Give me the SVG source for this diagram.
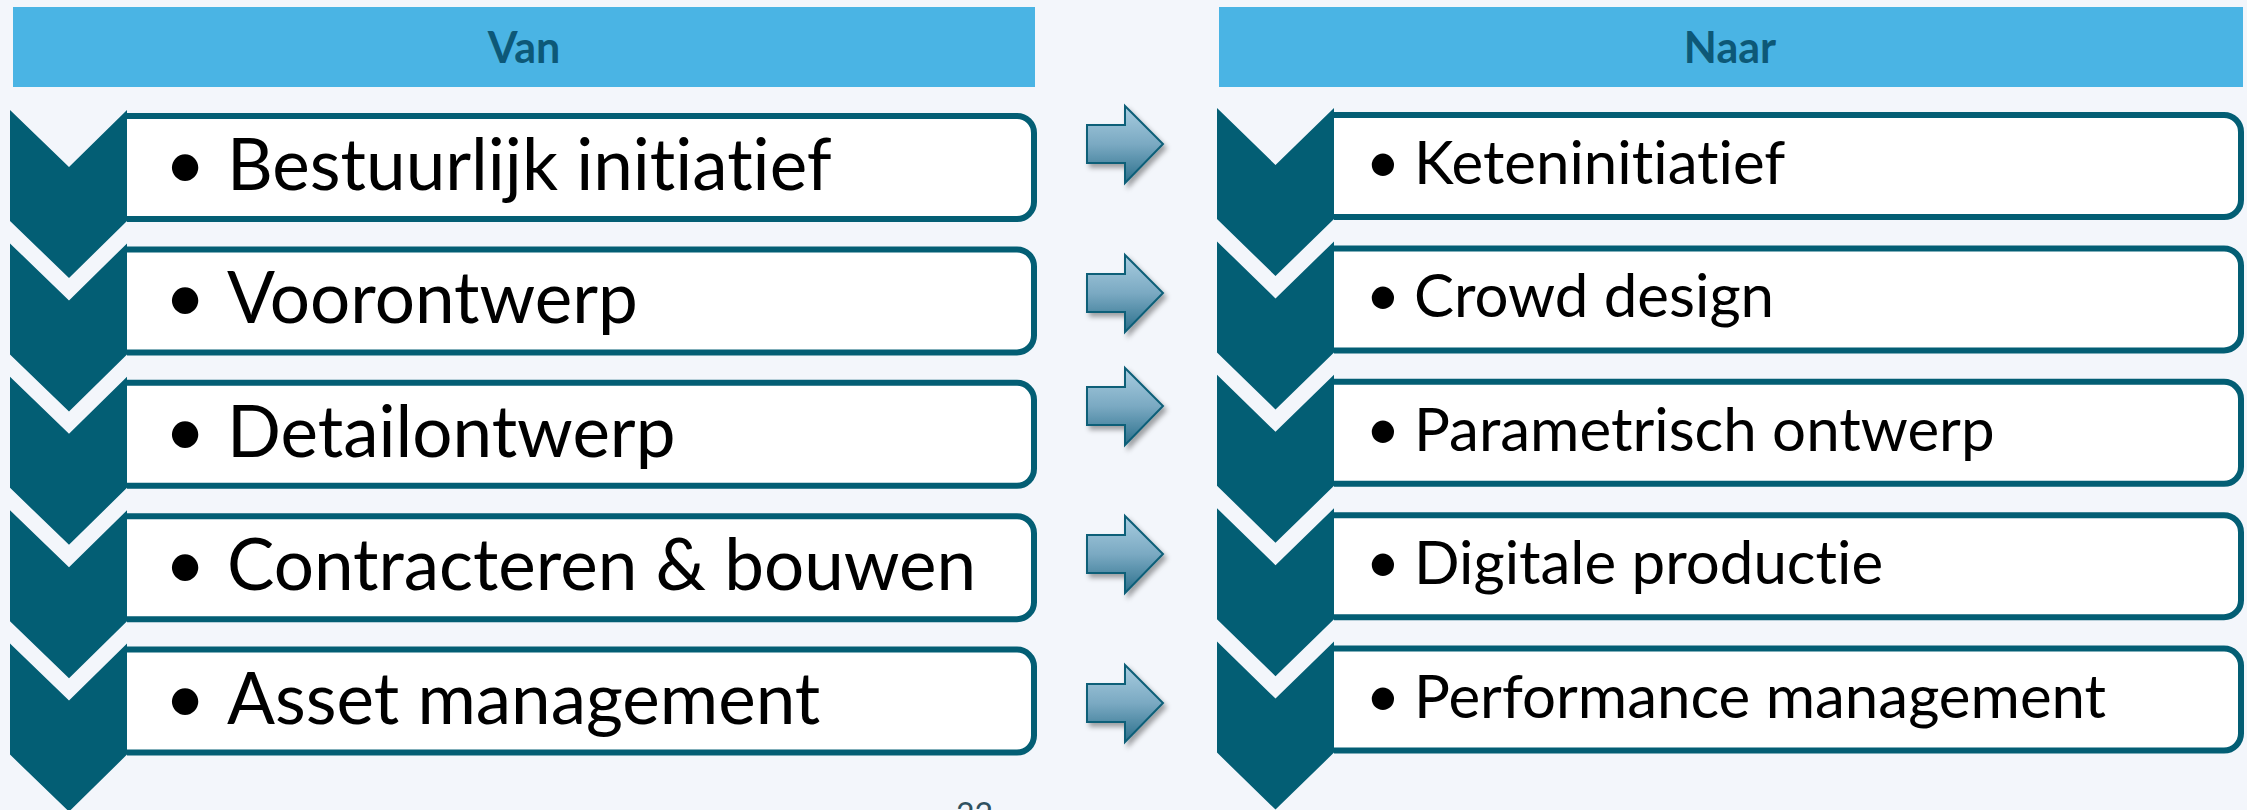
<svg xmlns="http://www.w3.org/2000/svg" width="2247" height="810" viewBox="0 0 2247 810">
  <defs>
    <linearGradient id="arrowGrad" x1="0" y1="0" x2="0" y2="1">
      <stop offset="0" stop-color="#a9cde0"/>
      <stop offset="0.5" stop-color="#7aa9c2"/>
      <stop offset="1" stop-color="#2b6f8b"/>
    </linearGradient>
    <filter id="shadow" x="-20%" y="-20%" width="150%" height="150%">
      <feDropShadow dx="3" dy="4" stdDeviation="2.5" flood-color="#000" flood-opacity="0.35"/>
    </filter>
    <style>
      text { font-variant-ligatures: none; font-feature-settings: "liga" 0, "clig" 0, "dlig" 0; }
      .hdr { fill: #4ab4e4; }
      .hdrtxt { font-family: Lato, "Open Sans", sans-serif; font-weight: bold; font-size: 43px; fill: #0d5877; text-anchor: middle; }
      .chev { fill: #035e74; }
      .box { fill: #ffffff; stroke: #035e74; stroke-width: 6; }
      .lt { font-family: Lato, "Open Sans", sans-serif; font-size: 71px; fill: #000000; }
      .rt { font-family: Lato, "Open Sans", sans-serif; font-size: 60px; fill: #000000; }
      .arrow { fill: url(#arrowGrad); stroke: #0d5f78; stroke-width: 2; filter: url(#shadow); }
      .pg { font-family: Lato, "Open Sans", sans-serif; font-size: 32px; fill: #2f5160; }
    </style>
  </defs>
  <rect x="0" y="0" width="2247" height="810" fill="#f3f6fb"/>

  <g id="header-van">
    <rect class="hdr" x="13" y="7" width="1022" height="80"/>
    <text class="hdrtxt" x="524" y="63">Van</text>
  </g>
  <g id="header-naar">
    <rect class="hdr" x="1219" y="7" width="1024" height="80"/>
    <text class="hdrtxt" x="1730" y="63">Naar</text>
  </g>

  <!-- Left column (Van) -->
  <g id="van-1">
    <path class="box" d="M127,116 H1017 A17,17 0 0 1 1034,133 V202 A17,17 0 0 1 1017,219 H127"/>
    <polygon class="chev" points="10,110 69,167 127,110 127,221 69,278 10,221"/>
    <text class="lt" x="185" y="189" text-anchor="middle">•</text>
    <text class="lt" x="227" y="190">Bestuurlijk initiatief</text>
  </g>
  <g id="van-2" transform="translate(0,133.4)">
    <path class="box" d="M127,116 H1017 A17,17 0 0 1 1034,133 V202 A17,17 0 0 1 1017,219 H127"/>
    <polygon class="chev" points="10,110 69,167 127,110 127,221 69,278 10,221"/>
    <text class="lt" x="185" y="189" text-anchor="middle">•</text>
    <text class="lt" x="227" y="190">Voorontwerp</text>
  </g>
  <g id="van-3" transform="translate(0,266.8)">
    <path class="box" d="M127,116 H1017 A17,17 0 0 1 1034,133 V202 A17,17 0 0 1 1017,219 H127"/>
    <polygon class="chev" points="10,110 69,167 127,110 127,221 69,278 10,221"/>
    <text class="lt" x="185" y="189" text-anchor="middle">•</text>
    <text class="lt" x="227" y="190">Detailontwerp</text>
  </g>
  <g id="van-4" transform="translate(0,400.2)">
    <path class="box" d="M127,116 H1017 A17,17 0 0 1 1034,133 V202 A17,17 0 0 1 1017,219 H127"/>
    <polygon class="chev" points="10,110 69,167 127,110 127,221 69,278 10,221"/>
    <text class="lt" x="185" y="189" text-anchor="middle">•</text>
    <text class="lt" x="227" y="190">Contracteren &amp; bouwen</text>
  </g>
  <g id="van-5" transform="translate(0,533.6)">
    <path class="box" d="M127,116 H1017 A17,17 0 0 1 1034,133 V202 A17,17 0 0 1 1017,219 H127"/>
    <polygon class="chev" points="10,110 69,167 127,110 127,221 69,278 10,221"/>
    <text class="lt" x="185" y="189" text-anchor="middle">•</text>
    <text class="lt" x="227" y="190">Asset management</text>
  </g>

  <!-- Right column (Naar) -->
  <g id="naar-1">
    <path class="box" d="M1334,115 H2224 A17,17 0 0 1 2241,132 V200 A17,17 0 0 1 2224,217 H1334"/>
    <polygon class="chev" points="1217,108 1275.5,165 1334,108 1334,219 1275.5,276 1217,219"/>
    <text class="rt" x="1383" y="183" text-anchor="middle">•</text>
    <text class="rt" x="1414" y="184">Keteninitiatief</text>
  </g>
  <g id="naar-2" transform="translate(0,133.4)">
    <path class="box" d="M1334,115 H2224 A17,17 0 0 1 2241,132 V200 A17,17 0 0 1 2224,217 H1334"/>
    <polygon class="chev" points="1217,108 1275.5,165 1334,108 1334,219 1275.5,276 1217,219"/>
    <text class="rt" x="1383" y="183" text-anchor="middle">•</text>
    <text class="rt" x="1414" y="184">Crowd design</text>
  </g>
  <g id="naar-3" transform="translate(0,266.8)">
    <path class="box" d="M1334,115 H2224 A17,17 0 0 1 2241,132 V200 A17,17 0 0 1 2224,217 H1334"/>
    <polygon class="chev" points="1217,108 1275.5,165 1334,108 1334,219 1275.5,276 1217,219"/>
    <text class="rt" x="1383" y="183" text-anchor="middle">•</text>
    <text class="rt" x="1414" y="184">Parametrisch ontwerp</text>
  </g>
  <g id="naar-4" transform="translate(0,400.2)">
    <path class="box" d="M1334,115 H2224 A17,17 0 0 1 2241,132 V200 A17,17 0 0 1 2224,217 H1334"/>
    <polygon class="chev" points="1217,108 1275.5,165 1334,108 1334,219 1275.5,276 1217,219"/>
    <text class="rt" x="1383" y="183" text-anchor="middle">•</text>
    <text class="rt" x="1414" y="184">Digitale productie</text>
  </g>
  <g id="naar-5" transform="translate(0,533.6)">
    <path class="box" d="M1334,115 H2224 A17,17 0 0 1 2241,132 V200 A17,17 0 0 1 2224,217 H1334"/>
    <polygon class="chev" points="1217,108 1275.5,165 1334,108 1334,219 1275.5,276 1217,219"/>
    <text class="rt" x="1383" y="183" text-anchor="middle">•</text>
    <text class="rt" x="1414" y="184">Performance management</text>
  </g>

  <!-- Connectors: Van -> Naar arrows -->
  <g id="connectors">
    <polygon class="arrow" points="1087,125 1125,125 1125,106 1163,144 1125,183 1125,163 1087,163"/>
    <polygon class="arrow" points="1087,274 1125,274 1125,255 1163,293 1125,332 1125,312 1087,312"/>
    <polygon class="arrow" points="1087,387 1125,387 1125,368 1163,406 1125,445 1125,425 1087,425"/>
    <polygon class="arrow" points="1087,535 1125,535 1125,516 1163,554 1125,593 1125,573 1087,573"/>
    <polygon class="arrow" points="1087,684 1125,684 1125,665 1163,703 1125,742 1125,722 1087,722"/>
  </g>

  <text class="pg" x="956" y="826">22</text>
</svg>
